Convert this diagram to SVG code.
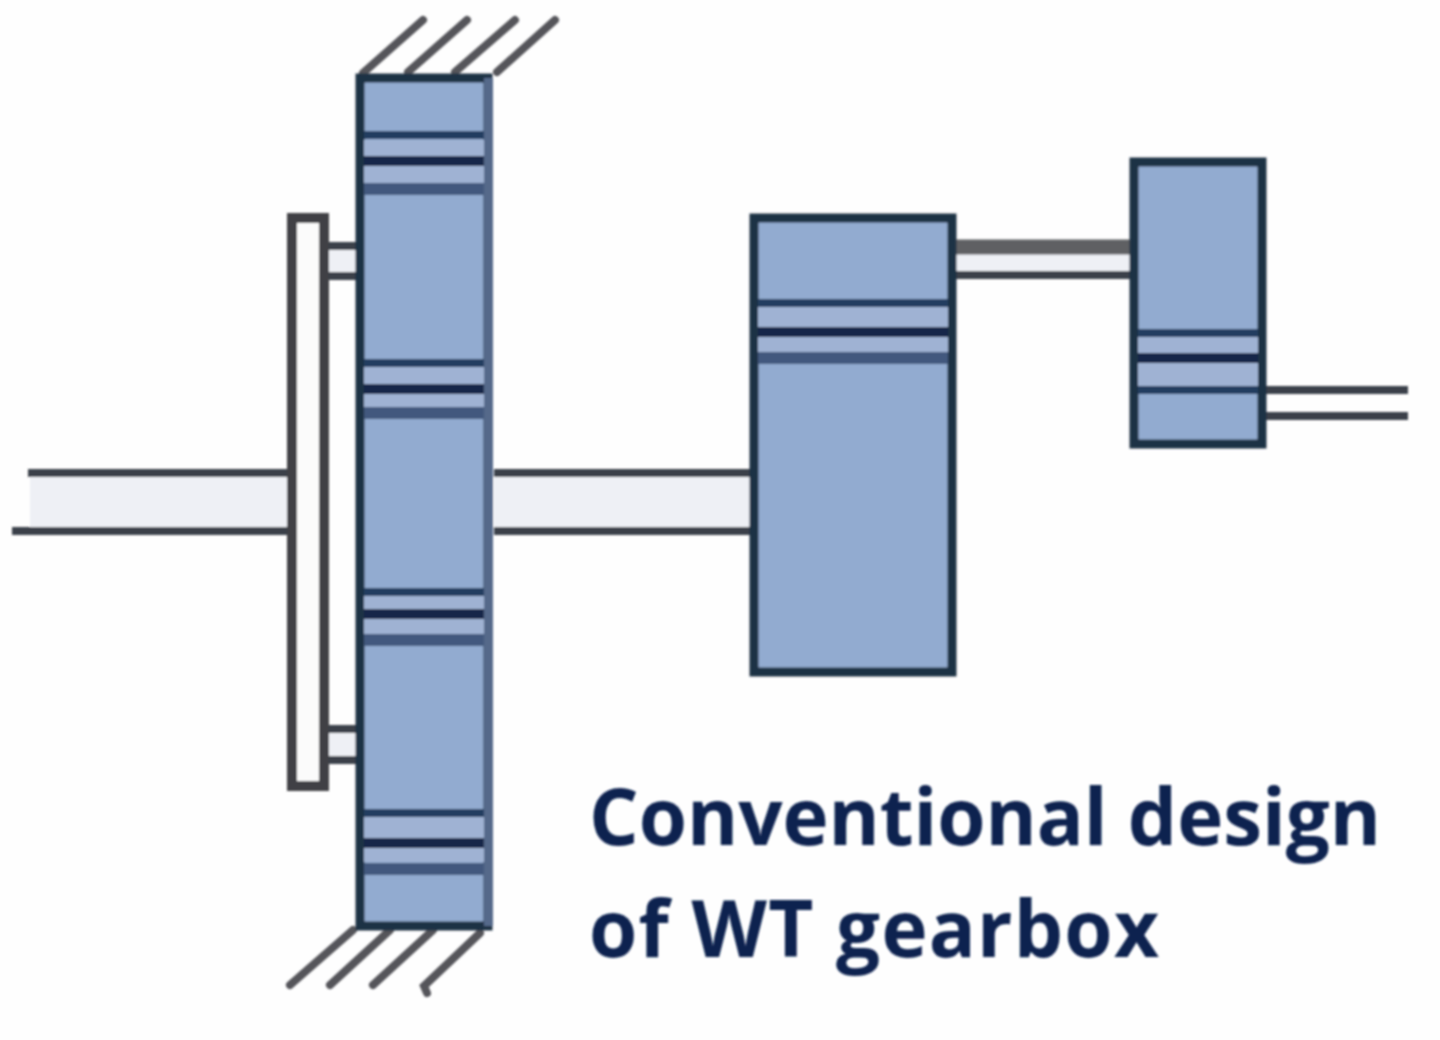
<svg xmlns="http://www.w3.org/2000/svg" width="1440" height="1040" viewBox="0 0 1440 1040">
<defs>
<filter id="soft" x="-5%" y="-5%" width="110%" height="110%"><feGaussianBlur stdDeviation="1"/></filter>
<style>
.gear{fill:#92abd0;stroke:#1f3045;stroke-width:9}
.edge{fill:#55698a;stroke:none}
.b1{stroke:#243c60;stroke-width:8;fill:none}
.b2{stroke:#14264a;stroke-width:10;fill:none}
.b3{stroke:#43587e;stroke-width:12;fill:none}
.band{fill:#9fb2d3;stroke:none}
.hatch{stroke:#55555a;stroke-width:8;fill:none;stroke-linecap:round}
.shaft{stroke:#3a4048;stroke-width:8;fill:none}
.thick{stroke:#5f6164;stroke-width:15;fill:none}
.core{fill:#eef0f5;stroke:none}
.plate{fill:#fbfbfb;stroke:#414145;stroke-width:10}
.label{font-family:"Open Sans","Liberation Sans",sans-serif;font-weight:700;font-size:78px;fill:#0a2250}
</style>
</defs>
<rect width="1440" height="1040" fill="#fefefe"/>
<g filter="url(#soft)">
<g id="connectors">
<rect class="core" x="30" y="474" width="260" height="56"/>
<path class="shaft" d="M28 473H292M12 531H292"/>
<rect class="core" x="494" y="474" width="258" height="56"/>
<path class="shaft" d="M494 473H752M494 531H752"/>
<rect class="core" x="956" y="246" width="178" height="28"/>
<path class="thick" d="M956 247H1134"/>
<path class="shaft" d="M956 275H1134"/>
<path class="shaft" d="M1262 390H1408M1262 416H1408"/>
<rect class="core" x="324" y="246" width="34" height="30"/>
<rect class="core" x="324" y="730" width="34" height="30"/>
<path class="shaft" d="M324 246H358M324 276H358M324 729H358M324 760H358"/>
</g>
<g id="top-hatch">
<path class="hatch" d="M363 73L423 20M408 72L467 20M455 72L515 20M497 72L555 20"/>
</g>
<g id="bottom-hatch">
<path class="hatch" d="M353 930L290 985M390 930L330 985M433 930L373 985M480 933L424 986L427 993"/>
</g>
<g id="plate">
<rect class="plate" x="292" y="218" width="32" height="568"/>
</g>
<g id="ring-gear">
<rect class="gear" x="360" y="78" width="128" height="848"/>
<rect class="edge" x="484" y="78" width="9" height="848"/>
<path class="band" d="M364 140H484V184H364ZM364 364H484V410H364ZM364 592H484V638H364ZM364 815H484V862H364Z"/>
<path class="b1" d="M364 135H484M364 363H484M364 592H484M364 813H484"/>
<path class="b2" d="M364 161H484M364 389H484M364 614H484M364 843H484"/>
<path class="b3" d="M364 189H484M364 413H484M364 640H484M364 869H484"/>
</g>
<g id="planet-gear">
<rect class="gear" x="754" y="218" width="198" height="454"/>
<path class="band" d="M758 306H948V352H758Z"/>
<path class="b1" d="M758 303H948"/>
<path class="b2" d="M758 332H948"/>
<path class="b3" d="M758 358H948"/>
</g>
<g id="sun-gear">
<rect class="gear" x="1134" y="162" width="128" height="282"/>
<path class="band" d="M1138 336H1258V388H1138Z"/>
<path class="b1" d="M1138 333H1258"/>
<path class="b2" d="M1138 358H1258"/>
<path class="b1" d="M1138 390H1258"/>
</g>
<g id="caption">
<text class="label" x="589" y="845" textLength="792">Conventional design</text>
<text class="label" x="589" y="957" textLength="570">of WT gearbox</text>
</g>
</g>
</svg>
